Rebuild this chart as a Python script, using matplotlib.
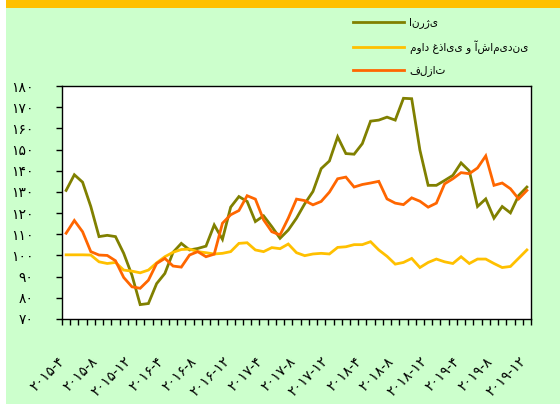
import matplotlib
matplotlib.use("Agg")
import matplotlib.pyplot as plt
from matplotlib.patches import Rectangle

# ---- data ----
periods = [f"{y}-{m}" for y in range(2015, 2020) for m in range(1, 13)][3:]
energy = [130.7, 138.1, 134.6, 123.1, 108.9, 109.5, 108.9, 101.0, 90.7, 76.8,
          77.3, 86.7, 91.5, 101.5, 105.7, 102.6, 103.3, 104.4, 114.4, 107.6,
          122.8, 127.8, 125.5, 116.0, 118.7, 113.6, 108.1, 112.0, 117.6, 124.4,
          130.2, 141.0, 144.6, 156.0, 148.1, 147.8, 152.8, 163.4, 163.9, 165.3,
          163.9, 174.2, 174.0, 149.7, 133.1, 133.1, 135.4, 137.8, 143.7, 139.9,
          123.1, 126.7, 117.6, 123.1, 120.1, 128.3, 132.3]
food = [100.3, 100.3, 100.3, 100.2, 97.0, 96.2, 96.7, 93.1, 92.6, 91.8,
        93.1, 96.5, 99.4, 101.5, 102.8, 103.0, 101.8, 101.3, 100.7, 101.0,
        101.8, 105.7, 106.0, 102.6, 101.8, 103.7, 103.2, 105.4, 101.3, 99.9,
        100.7, 101.0, 100.7, 103.8, 104.1, 105.1, 105.1, 106.5, 102.6, 99.6,
        95.9, 96.7, 98.6, 94.3, 96.7, 98.3, 97.0, 96.2, 99.4, 96.2,
        98.3, 98.3, 96.2, 94.3, 94.8, 98.7, 102.6]
metals = [110.5, 116.5, 111.2, 101.8, 100.2, 100.0, 97.5, 89.6, 85.2, 84.5,
          88.3, 96.2, 98.6, 95.0, 94.5, 100.2, 101.8, 99.4, 100.6, 115.2,
          119.2, 121.2, 128.2, 126.6, 116.8, 111.2, 109.7, 117.6, 126.6, 125.9,
          123.9, 125.5, 129.9, 136.2, 137.0, 132.3, 133.5, 134.2, 135.0, 126.7,
          124.7, 124.0, 127.2, 125.6, 122.8, 124.7, 133.8, 136.2, 139.1, 138.6,
          141.3, 147.0, 133.1, 134.2, 131.5, 126.7, 130.7]
series_names = ["انرژی", "مواد غذایی و آشامیدنی", "فلزات"]
y_ticks = list(range(70, 181, 10))

# ---- helpers ----
fa_digits = str.maketrans("0123456789", "۰۱۲۳۴۵۶۷۸۹")
def fa(s):
    return str(s).translate(fa_digits)

W, H = 560, 404
fig = plt.figure(figsize=(W / 100, H / 100), dpi=100, facecolor="white")
fig.patches.append(Rectangle((6 / W, 0), 1 - 6 / W, 1, transform=fig.transFigure,
                             facecolor="#CCFFCC", edgecolor="none", zorder=-2))
fig.patches.append(Rectangle((6 / W, 1 - 8 / H), 1 - 6 / W, 8 / H, transform=fig.transFigure,
                             facecolor="#FFC000", edgecolor="none", zorder=-1))

ax = fig.add_axes([62 / W, 1 - 319 / H, 469 / W, 233 / H])
ax.set_zorder(1)
ax.set_facecolor("white")
x = list(range(len(periods)))
colors = ["#808000", "#FFC000", "#FF6600"]
lines = []
for vals, c, name in zip([energy, food, metals], colors, series_names):
    ln, = ax.plot(x, vals, color=c, lw=2.0, label=name, solid_joinstyle="miter")
    lines.append(ln)

ax.set_xlim(-0.5, len(periods) - 0.5)
ax.set_ylim(70, 180)
ax.set_yticks(y_ticks)
ax.set_yticklabels([fa(v) for v in y_ticks], fontsize=10)
ax.set_xticks([i - 0.5 for i in range(len(periods) + 1)])
ax.set_xticklabels([])
ax.set_xticks([i - 0.4 for i in x[::4]], minor=True)
ax.set_xticklabels([fa(periods[i]) for i in x[::4]], minor=True, fontsize=10,
                   rotation=45, ha="right", va="center", rotation_mode="anchor")
ax.tick_params(axis="x", which="major", direction="out", length=4.5, width=1)
ax.tick_params(axis="x", which="minor", length=0, pad=29)
ax.tick_params(axis="y", direction="out", length=4.5, width=1, pad=16)
for s in ax.spines.values():
    s.set_linewidth(1.0)
    s.set_color("black")

fig.legend(handles=lines, labels=series_names, loc="upper left",
           bbox_to_anchor=(343 / W, 1 - 8 / H), frameon=False, fontsize=7.6,
           handlelength=4.9, handletextpad=0.5, labelspacing=1.1)

fig.savefig("out.png", dpi=100, facecolor=fig.get_facecolor())
